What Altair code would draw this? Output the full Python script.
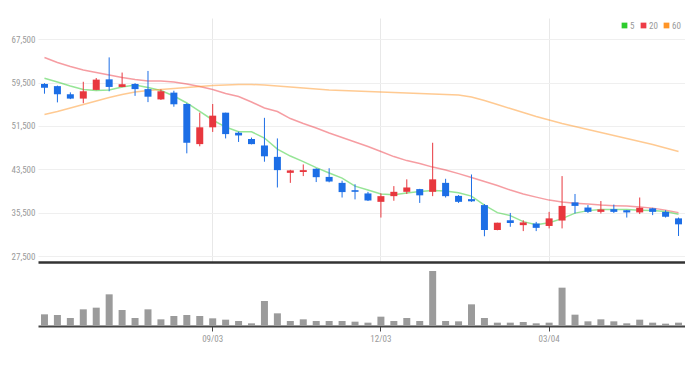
import altair as alt
import pandas as pd

dates = ["2018-06-04", "2018-06-11", "2018-06-18", "2018-06-25", "2018-07-02", "2018-07-09",
         "2018-07-16", "2018-07-23", "2018-07-30", "2018-08-06", "2018-08-13", "2018-08-20",
         "2018-08-27", "2018-09-03", "2018-09-10", "2018-09-17", "2018-09-24", "2018-10-01",
         "2018-10-08", "2018-10-15", "2018-10-22", "2018-10-29", "2018-11-05", "2018-11-12",
         "2018-11-19", "2018-11-26", "2018-12-03", "2018-12-10", "2018-12-17", "2018-12-24",
         "2018-12-31", "2019-01-07", "2019-01-14", "2019-01-21", "2019-01-28", "2019-02-04",
         "2019-02-11", "2019-02-18", "2019-02-25", "2019-03-04", "2019-03-11", "2019-03-18",
         "2019-03-25", "2019-04-01", "2019-04-08", "2019-04-15", "2019-04-22", "2019-04-29",
         "2019-05-06", "2019-05-13"]

opens = [59250, 58850, 57350, 56550, 58150, 60100, 58700, 59250, 58300, 56400,
         57650, 55550, 48150, 51250, 53950, 50250, 49100, 47900, 45800, 42850,
         43000, 43600, 42100, 41000, 39650, 39050, 37500, 38550, 39350, 39850,
         39350, 41000, 38600, 38000, 36900, 32300, 34100, 33200, 33500, 33050,
         34050, 37400, 36450, 35650, 36150, 35950, 35550, 36300, 35650, 34450]
highs = [59400, 58950, 57700, 59650, 60350, 64150, 61350, 59400, 61650, 58250,
         58000, 55700, 53950, 55550, 53950, 50450, 49350, 53000, 49200, 43400,
         44400, 43700, 43700, 41400, 40750, 39350, 39050, 40400, 41650, 39900,
         48400, 41750, 38750, 42550, 37100, 33650, 35450, 34100, 33800, 35650,
         42250, 38950, 36900, 37650, 37000, 36000, 38300, 36400, 35950, 34600]
lows = [57450, 55850, 56450, 55700, 58100, 57900, 58650, 57050, 55900, 56300,
        55050, 46450, 47750, 50400, 49200, 48550, 48100, 44900, 40150, 41000,
        42250, 41150, 41100, 38300, 37950, 37650, 34600, 37700, 38950, 37300,
        38550, 38300, 37300, 37500, 31150, 32250, 32900, 32100, 32100, 32600,
        32600, 35350, 35450, 35350, 35450, 34600, 35250, 35050, 34600, 31200]
closes = [58550, 57350, 56550, 57900, 60050, 58700, 59200, 58300, 56900, 57900,
          55500, 48400, 51250, 53400, 50000, 49750, 48150, 45900, 43350, 43300,
          43350, 42050, 41250, 39300, 39350, 37750, 38550, 39350, 40150, 38700,
          41650, 38550, 37500, 37600, 32300, 33650, 33600, 33700, 32700, 34450,
          36750, 36750, 35650, 36100, 35650, 35550, 36400, 35650, 34750, 33350]
volumes = [350, 330, 240, 500, 550, 950, 480, 240, 500, 200,
           300, 330, 300, 230, 190, 150, 80, 750, 380, 150,
           200, 150, 150, 150, 130, 100, 280, 150, 240, 150,
           1650, 150, 140, 650, 240, 100, 100, 120, 80, 100,
           1150, 340, 140, 200, 140, 80, 190, 100, 70, 100]

ma5 = [60300, 59600, 58880, 58230, 58040, 58140, 58690, 59060, 58600, 58040,
       57030, 55740, 54170, 52600, 51300, 50430, 50430, 49270, 47240, 45950,
       44930, 43820, 42810, 41880, 40400, 39670, 38930, 38830, 39110, 39390,
       39570, 39480, 39170, 38560, 36900, 35510, 34960, 33850, 33290, 33660,
       34400, 35420, 35880, 36070, 36100, 36070, 35970, 35880, 35700, 35200]
ma20 = [64140, 63210, 62480, 61830, 61370, 60910, 60440, 60070, 59800, 59800,
        59610, 59240, 58780, 58230, 57490, 56930, 55920, 54810, 54170, 52870,
        51950, 51120, 50190, 49360, 48530, 47700, 46780, 45850, 45110, 44560,
        43910, 43360, 42710, 41980, 41240, 40500, 39670, 38930, 38370, 37820,
        37450, 37260, 37080, 36900, 36800, 36710, 36530, 36340, 35970, 35510]
ma60 = [53610, 54170, 54810, 55460, 56100, 56750, 57300, 57770, 58040, 58230,
        58410, 58600, 58780, 58970, 59060, 59150, 59150, 59060, 58870, 58690,
        58500, 58320, 58140, 58040, 57950, 57860, 57770, 57670, 57580, 57490,
        57400, 57300, 57210, 56840, 56200, 55460, 54720, 53980, 53240, 52600,
        51950, 51400, 50840, 50290, 49730, 49180, 48620, 48070, 47420, 46780]

ma_labels = ["5", "20", "60"]
ma_colors = ["#2ecc2e", "#ee3b46", "#ff9526"]
x_ticks = ["2018-09-03", "2018-12-03", "2019-03-04"]
y_ticks = [27500, 35500, 43500, 51500, 59500, 67500]

df = pd.DataFrame({"date": dates, "open": opens, "high": highs, "low": lows,
                   "close": closes, "volume": volumes})
df["dir"] = ["up" if c >= o else "down" for o, c in zip(opens, closes)]

ma_df = pd.concat([pd.DataFrame({"date": dates, "value": s, "ma": name})
                   for s, name in zip([ma5, ma20, ma60], ma_labels)], ignore_index=True)

FONT = ("Roboto Condensed, Liberation Sans Narrow, Noto Sans Condensed, "
        "Open Sans Condensed, DejaVu Sans Condensed, Arial Narrow, sans-serif")
W = 647
TOP_H = 244
LABEL_EXPR = "substring(datum.value, 5, 7) + '/' + substring(datum.value, 8, 10)"

x_top = alt.X("date:O", sort=None, title=None,
              scale=alt.Scale(paddingInner=0, paddingOuter=0),
              axis=alt.Axis(values=x_ticks, labels=False, ticks=False, grid=True,
                            gridColor="#e8e8e8", bandPosition=0.5,
                            domainColor="#333333", domainWidth=2.5))
y_scale = alt.Scale(domain=[26400, 71420], nice=False, zero=False)
y_axis = alt.Axis(values=y_ticks, format=",.0f", labelColor="#9a9a9a", labelFont=FONT,
                  labelFontSize=9, ticks=False, domain=False, grid=True,
                  gridColor="#efefef", minExtent=26, maxExtent=26, labelPadding=3,
                  title=None)

candle_color = alt.Color("dir:N", legend=None,
                         scale=alt.Scale(domain=["up", "down"], range=["#e8373e", "#1c6ee6"]))

wicks = alt.Chart(df).mark_rule(strokeWidth=1).encode(
    x=x_top,
    y=alt.Y("low:Q", scale=y_scale, axis=y_axis),
    y2="high:Q",
    color=candle_color,
)
bodies = alt.Chart(df).mark_bar(size=7).encode(
    x=x_top,
    y=alt.Y("open:Q", scale=y_scale, axis=y_axis),
    y2="close:Q",
    color=candle_color,
)
lines = alt.Chart(ma_df).mark_line(strokeWidth=1.5, opacity=0.5).encode(
    x=x_top,
    y=alt.Y("value:Q", scale=y_scale, axis=y_axis),
    color=alt.Color("ma:N", sort=ma_labels,
                    scale=alt.Scale(domain=ma_labels, range=ma_colors),
                    legend=alt.Legend(orient="none", legendX=582, legendY=3,
                                      direction="horizontal", title=None, padding=0,
                                      gridAlign="none",
                                      symbolType="square", symbolSize=5,
                                      symbolStrokeWidth=3.5, symbolOpacity=1,
                                      labelFont=FONT, labelFontSize=9,
                                      labelColor="#999999", labelOffset=1,
                                      columnPadding=0)),
)

top = alt.layer(lines, wicks, bodies).resolve_scale(color="independent").properties(
    width=W, height=TOP_H)

vol = alt.Chart(df).mark_bar(size=7, color="#9b9b9b").encode(
    x=alt.X("date:O", sort=None, title=None,
            scale=alt.Scale(paddingInner=0, paddingOuter=0),
            axis=alt.Axis(values=x_ticks, labelExpr=LABEL_EXPR, ticks=True,
                          tickColor="#444444", tickSize=5, domainColor="#444444",
                          domainWidth=2, labelColor="#9a9a9a", labelFont=FONT,
                          labelFontSize=9, labelPadding=3, grid=False,
                          bandPosition=0.5, labelAngle=0)),
    y=alt.Y("volume:Q", scale=alt.Scale(domain=[0, 1800], nice=False),
            axis=alt.Axis(labels=False, ticks=False, domain=False, grid=False,
                          title=None, minExtent=26, maxExtent=26)),
).properties(width=W, height=60)

chart = alt.vconcat(top, vol, spacing=4).configure_view(stroke=None).properties(
    padding={"left": 3, "top": 10, "right": 0, "bottom": 5})

chart.save("out.html", embed_options={"renderer": "svg", "actions": False})
